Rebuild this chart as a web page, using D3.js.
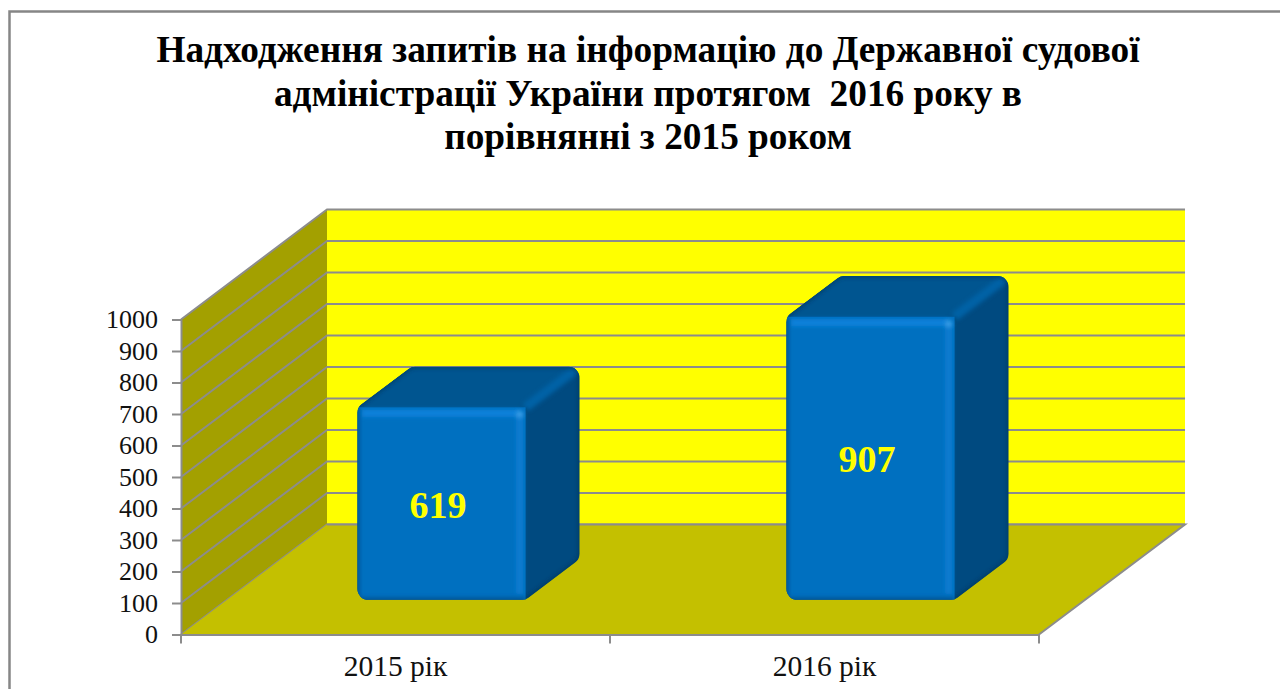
<!DOCTYPE html>
<meta charset="UTF-8">
<style>
body { margin: 0; background: #fff; }
svg { display: block; }
text { font-family: "Liberation Serif", serif; }
.title { font-size: 37.3px; font-weight: bold; fill: #000; white-space: pre; }
.axis text { font-size: 26px; fill: #111; font-family: "Liberation Serif", serif; }
.xaxis text { font-size: 29.5px; }
.axis line, .axis path { stroke: #8c8c8c; stroke-width: 2px; }
.grid { stroke: #8c8c8c; stroke-width: 2px; fill: none; }
.val { font-size: 38px; font-weight: bold; fill: #ffff00; text-anchor: middle; }
</style>
<body>
<script src="https://d3js.org/d3.v7.min.js"></script>
<script>

var titleLines = [
  "Надходження запитів на інформацію до Державної судової",
  "адміністрації України протягом  2016 року в",
  "порівнянні з 2015 роком"
];
var categories = ["2015 рік", "2016 рік"];
var values = [619, 907];
var yTicks = [0, 100, 200, 300, 400, 500, 600, 700, 800, 900, 1000];

var width = 1280, height = 689;
var depth = {dx: 146, dy: -110};   // how far the back wall is shifted from the front plane
var barDepth = [0.315, 0.685];     // where the bars sit between front and back
var bevelInset = 2.5;              // the bevel eats a little off the top of a bar

var svg = d3.select("body").append("svg")
    .attr("width", width)
    .attr("height", height);

var x = d3.scaleBand().domain(categories).range([181, 1039]);
var y = d3.scaleLinear().domain([0, 1000]).range([634.5, 319.5]);

// 3d projection: px, value, depth (0 front, 1 back)
function pt(px, v, t) {
  return [px + depth.dx * t, y(v) + depth.dy * t];
}
function poly(points) {
  return "M" + points.map(function(p) { return p.join(","); }).join("L") + "Z";
}

// polygon with rounded corners
function rounded(points, r) {
  var p = d3.path(), n = points.length;
  var a = points[n - 1], b = points[0];
  p.moveTo((a[0] + b[0]) / 2, (a[1] + b[1]) / 2);
  for (var i = 0; i < n; i++) {
    var c = points[i], d = points[(i + 1) % n];
    p.arcTo(c[0], c[1], (c[0] + d[0]) / 2, (c[1] + d[1]) / 2, r);
  }
  p.closePath();
  return p.toString();
}

var defs = svg.append("defs");
// user space units, otherwise straight lines get an empty filter box
defs.append("filter").attr("id", "soft")
    .attr("filterUnits", "userSpaceOnUse")
    .attr("x", 0).attr("y", 0).attr("width", width).attr("height", height)
  .append("feGaussianBlur").attr("stdDeviation", 2);

// chart frame, runs off the right and the bottom of the picture
svg.append("path")
    .attr("d", "M9.5,700V11.5H1290")
    .attr("fill", "none")
    .attr("stroke", "#868686")
    .attr("stroke-width", 2.5);

// title
svg.selectAll("text.title")
    .data(titleLines)
  .enter().append("text")
    .attr("class", "title")
    .attr("x", 648)
    .attr("y", function(d, i) { return 62 + i * 43.5; })
    .attr("text-anchor", "middle")
    .text(function(d) { return d; });

var x0 = x.range()[0], x1 = x.range()[1];

// walls
svg.append("path")
    .attr("d", poly([pt(x0, 0, 1), pt(x1, 0, 1), pt(x1, 1000, 1), pt(x0, 1000, 1)]))
    .attr("fill", "#ffff00");
svg.append("path")
    .attr("d", poly([pt(x0, 0, 0), pt(x0, 0, 1), pt(x0, 1000, 1), pt(x0, 1000, 0)]))
    .attr("fill", "#a3a000");

// gridlines on both walls
svg.selectAll("path.grid")
    .data(yTicks)
  .enter().append("path")
    .attr("class", "grid")
    .attr("d", function(d) {
      return "M" + pt(x0, d, 0) + "L" + pt(x0, d, 1) + "L" + pt(x1, d, 1);
    });

// floor
svg.append("path")
    .attr("d", poly([pt(x0, 0, 0), pt(x1, 0, 0), pt(x1, 0, 1), pt(x0, 0, 1)]))
    .attr("fill", "#c4c000");
svg.append("path")
    .attr("class", "grid")
    .attr("d", "M" + pt(x0, 0, 1) + "L" + pt(x1, 0, 1) + "L" + pt(x1, 0, 0));

// axes
svg.append("g")
    .attr("class", "axis")
    .attr("transform", "translate(" + x0 + ",0)")
    .call(d3.axisLeft(y).tickValues(yTicks).tickFormat(d3.format("d")).tickSize(9).tickPadding(14).tickSizeOuter(0));

var xAxis = svg.append("g")
    .attr("class", "axis xaxis")
    .attr("transform", "translate(0," + y(0) + ")")
    .call(d3.axisBottom(x).tickSize(0).tickPadding(21).tickSizeOuter(0));

xAxis.selectAll("line.sep")
    .data(d3.range(categories.length + 1))
  .enter().append("line")
    .attr("class", "sep")
    .attr("x1", function(d) { return x0 + d * x.step(); })
    .attr("x2", function(d) { return x0 + d * x.step(); })
    .attr("y1", 0)
    .attr("y2", 9);

// bars
var barW = x.bandwidth() / 2.55;
var bars = svg.selectAll("g.bar")
    .data(values)
  .enter().append("g")
    .attr("class", "bar");

bars.each(function(v, i) {
  var g = d3.select(this);
  var cx = x(categories[i]) + x.bandwidth() / 2;
  var l = cx - barW / 2, r = cx + barW / 2;
  var tf = barDepth[0], tb = barDepth[1];
  var top = function(p) { return [p[0], p[1] + bevelInset]; };

  var fbl = pt(l, 0, tf), fbr = pt(r, 0, tf);
  var ftl = top(pt(l, v, tf)), ftr = top(pt(r, v, tf));
  var btl = top(pt(l, v, tb)), btr = top(pt(r, v, tb)), bbr = pt(r, 0, tb);

  var outline = rounded([fbl, ftl, btl, btr, bbr, fbr], 11);

  var clipId = "box" + i;
  defs.append("clipPath").attr("id", clipId).append("path").attr("d", outline);

  var box = g.append("g").attr("clip-path", "url(#" + clipId + ")");

  // side, top
  box.append("path").attr("d", outline).attr("fill", "#004a80");
  box.append("path").attr("d", poly([ftl, btl, btr, ftr])).attr("fill", "#005590");

  // lighter edge where top meets side
  box.append("path")
      .attr("d", "M" + ftr + "L" + btr)
      .attr("stroke", "#0062a6").attr("stroke-width", 9).attr("fill", "none")
      .attr("filter", "url(#soft)");
  // dark edge along the outline
  box.append("path")
      .attr("d", outline)
      .attr("stroke", "#00304f").attr("stroke-width", 2).attr("fill", "none")
      .attr("filter", "url(#soft)");

  // front face
  box.append("path").attr("d", poly([fbl, ftl, ftr, fbr])).attr("fill", "#0070c0");
  // highlights on the top and right of the front face
  box.append("path")
      .attr("d", "M" + [ftl[0] + 4, ftl[1] + 6] + "L" + [ftr[0] - 6, ftr[1] + 6])
      .attr("stroke", "#0a82dc").attr("stroke-width", 7).attr("fill", "none")
      .attr("filter", "url(#soft)");
  box.append("path")
      .attr("d", "M" + [ftr[0] - 6, ftr[1] + 6] + "L" + [fbr[0] - 6, fbr[1] - 6])
      .attr("stroke", "#0a7cd0").attr("stroke-width", 7).attr("fill", "none")
      .attr("filter", "url(#soft)");
  box.append("circle")
      .attr("cx", ftr[0] - 6).attr("cy", ftr[1] + 7).attr("r", 3.5)
      .attr("fill", "#3a9fe8").attr("filter", "url(#soft)");
  // darker left and bottom edges
  box.append("path")
      .attr("d", "M" + ftl + "L" + fbl + "L" + fbr)
      .attr("stroke", "#00508e").attr("stroke-width", 4).attr("fill", "none")
      .attr("filter", "url(#soft)");

  // value label
  g.append("text")
      .attr("class", "val")
      .attr("x", cx + depth.dx * tf - 3.5)
      .attr("y", (fbl[1] + ftl[1]) / 2 + 14)
      .text(v);
});

</script>
</body>
